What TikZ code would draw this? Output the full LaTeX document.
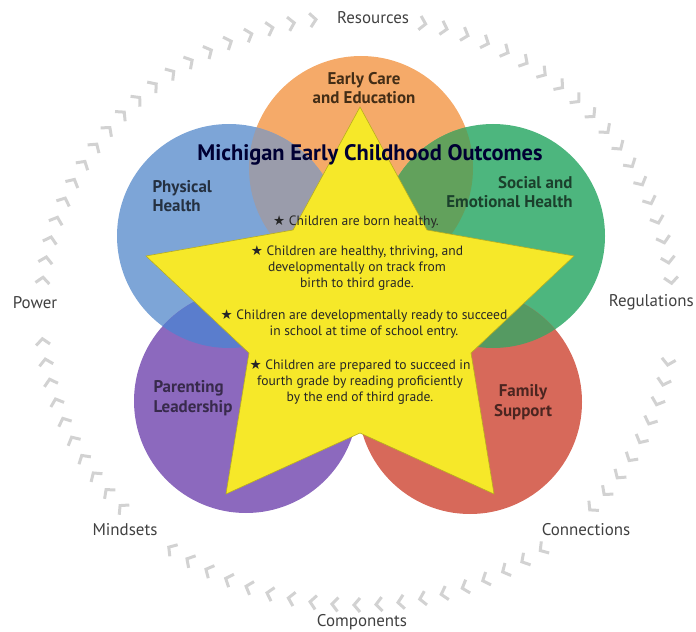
\documentclass[tikz,border=0pt]{standalone}
\usepackage{fontspec}
\setmainfont{PT Sans}
\newfontfamily\starfont{DejaVu Sans}
\usetikzlibrary{calc}
\definecolor{ece}{HTML}{F5AA69}
\definecolor{phys}{HTML}{7DA5D7}
\definecolor{soc}{HTML}{4DB67E}
\definecolor{par}{HTML}{8C69BE}
\definecolor{fam}{HTML}{D7695A}
\definecolor{starc}{HTML}{F6E829}
\definecolor{physece}{HTML}{9A9CAB}
\definecolor{socece}{HTML}{62A15C}
\definecolor{physpar}{HTML}{5A7DCD}
\definecolor{socfam}{HTML}{559A62}
\tikzset{chev/.style={gray!35, line width=3bp, line join=miter},
  ringlabel/.style={text=black!75, font=\fontsize{17}{17}\selectfont},
  arealabel/.style={font=\fontsize{17}{19.5}\selectfont\bfseries},
  goal/.style={text=black!85, align=center, font=\fontsize{13.6}{16.5}\selectfont}}
\newcommand\bul{{\starfont\char"2605}\ }

\begin{document}
\begin{tikzpicture}[x=1bp,y=-1bp]
   \useasboundingbox (0,0) rectangle (696,632);
   \foreach \t in {6,10,...,78,98,102,...,174,186,190,...,222,234,238,...,306,318,322,...,350}{
     \pgfmathsetmacro\px{357+316*cos(\t)}
     \pgfmathsetmacro\py{311-294*sin(\t)}
     \pgfmathsetmacro\ph{atan2(-294*cos(\t),316*sin(\t))}
     \draw[chev,shift={(\px,\py)},rotate=\ph] (-3,-7) -- (3,0) -- (-3,7);
   }
   \coordinate (ec) at (361,168);
   \coordinate (ph) at (229,236);
   \coordinate (se) at (493,236);
   \coordinate (pl) at (246,401);
   \coordinate (fs) at (470,402);
   \fill[ece] (ec) circle (112);
   \fill[phys] (ph) circle (112);
   \fill[soc] (se) circle (112);
   \fill[par] (pl) circle (112);
   \fill[fam] (fs) circle (112);
   \begin{scope}
    \clip (ec) circle (112);
    \fill[physece] (ph) circle (112);
    \fill[socece] (se) circle (112);
   \end{scope}
   \begin{scope} \clip (pl) circle (112); \fill[physpar] (ph) circle (112); \end{scope}
   \begin{scope} \clip (fs) circle (112); \fill[socfam] (se) circle (112); \end{scope}
   \draw[fill=starc, draw=starc!75!black, line width=0.6bp]
     (360,107) -- (427,230) -- (574,256) -- (471,353) -- (494,494)
     -- (360,433) -- (226,494) -- (249,353) -- (146,256) -- (293,230) -- cycle;
   \node[arealabel, text=black!65!brown, align=center] (a) at (364,88) {Early Care\\and Education};
   \node[arealabel, text=phys!30!black, align=left, anchor=west] (b) at (149,196) {Physical\\Health};
   \node[arealabel, text=soc!35!black, align=right, anchor=east] (c) at (576,192) {Social and\\Emotional Health};
   \node[arealabel, text=par!40!black, align=left, anchor=west] (d) at (150,398) {Parenting\\Leadership};
   \node[arealabel, text=fam!35!black, align=center] (e) at (523,402) {Family\\Support};
   \node[text=blue!20!black, font=\fontsize{22.5}{22.5}\selectfont\bfseries] (t) at (370,155) {Michigan Early Childhood Outcomes};
   \node[goal] (g1) at (356,222) {\bul Children are born healthy.};
   \node[goal] (g2) at (357,268) {\bul Children are healthy, thriving, and\\developmentally on track from\\birth to third grade.};
   \node[goal] (g3) at (364,324) {\bul Children are developmentally ready to succeed\\in school at time of school entry.};
   \node[goal] (g4) at (360,382) {\bul Children are prepared to succeed in\\fourth grade by reading proficiently\\by the end of third grade.};
   \node[ringlabel] (r) at (373,18) {Resources};
   \node[ringlabel] (p) at (35,303) {Power};
   \node[ringlabel, anchor=east, inner sep=1bp] (q) at (695,302) {Regulations};
   \node[ringlabel] (m) at (125,530) {Mindsets};
   \node[ringlabel] (n) at (586,530) {Connections};
   \node[ringlabel] (k) at (362,622) {Components};
\end{tikzpicture}
\end{document}
